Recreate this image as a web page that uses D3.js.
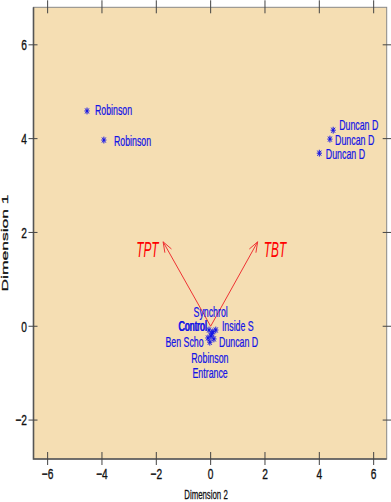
<!DOCTYPE html>
<html>
<head>
<meta charset="utf-8">
<script src="https://cdn.jsdelivr.net/npm/d3@7"></script>
<style>
  body { margin: 0; background: #fff; }
  text { font-family: "Liberation Sans", Arial, sans-serif; }
</style>
</head>
<body>
<svg class="biplot"></svg>
<script>
var width = 391,
    height = 502;

// axis ticks
var xTicks = [-6, -4, -2, 0, 2, 4, 6];
var yTicks = [-2, 0, 2, 4, 6];

// sites: star position (x, y) and where its label sits (lx, ly), in plot units
var siteNames = ["Robinson", "Robinson", "Duncan D", "Duncan D", "Duncan D",
                 "Synchrol", "Control", "Control", "Inside S", "Ben Scho", "Duncan D", "Robinson", "Entrance"];
var siteX  = [-4.55, -3.93, 4.51, 4.39, 4.00, -0.06, 0.08, 0.01, 0.19, -0.10, 0.12, -0.03, 0.04];
var siteY  = [4.59, 3.97, 4.18, 3.99, 3.69, -0.08, -0.12, -0.21, -0.08, -0.25, -0.27, -0.34, -0.16];
var labelX = [-4.26, -3.56, 4.73, 4.58, 4.24, 0.00, -0.67, -0.65, 1.00, -0.96, 1.03, -0.03, -0.02];
var labelY = [4.60, 3.94, 4.29, 3.97, 3.67, 0.31, 0.00, 0.01, 0.00, -0.33, -0.33, -0.68, -1.00];
var labelAnchor = ["start", "start", "start", "start", "start",
                   "middle", "middle", "middle", "middle", "middle", "middle", "middle", "middle"];

// environmental vectors
var vecNames = ["TPT", "TBT"];
var vecX = [-1.75, 1.73];
var vecY = [1.80, 1.80];
var vecLabelX = [-2.33, 2.37];
var vecLabelY = [1.65, 1.65];

var box = { left: 33.5, right: 386.7, top: 7.3, bottom: 459 };

var svg = d3.select(".biplot")
    .attr("width", width)
    .attr("height", height);

var x = d3.scaleLinear().domain([-6.52, 6.48]).range([box.left, box.right]);
var y = d3.scaleLinear().domain([-2.83, 6.8]).range([box.bottom, box.top]);

svg.append("rect")
    .attr("x", box.left).attr("y", box.top)
    .attr("width", box.right - box.left).attr("height", box.bottom - box.top)
    .attr("fill", "#F5DEB3")
    .attr("stroke", "#888")
    .attr("stroke-width", 1);

// darker left / bottom edge
svg.append("path")
    .attr("d", "M" + box.left + "," + box.top + "V" + box.bottom + "H" + box.right)
    .attr("fill", "none")
    .attr("stroke", "#555")
    .attr("stroke-width", 1.6);

// ticks cross the frame on all four sides
var tickCol = "#444";
xTicks.forEach(function(t) {
    svg.append("line").attr("x1", x(t)).attr("x2", x(t)).attr("y1", box.bottom - 7).attr("y2", box.bottom + 6)
        .attr("stroke", tickCol);
    svg.append("line").attr("x1", x(t)).attr("x2", x(t)).attr("y1", box.top - 7).attr("y2", box.top + 6)
        .attr("stroke", tickCol);
});
yTicks.forEach(function(t) {
    svg.append("line").attr("x1", box.left - 5).attr("x2", box.left + 4).attr("y1", y(t)).attr("y2", y(t))
        .attr("stroke", tickCol);
    svg.append("line").attr("x1", box.right - 4).attr("x2", box.right + 5).attr("y1", y(t)).attr("y2", y(t))
        .attr("stroke", tickCol);
});

function fmt(v) { return v < 0 ? "\u2212" + Math.abs(v) : String(v); }

function squeezed(sel, px, py, sx, sy) {
    return sel.attr("transform", "translate(" + px + "," + py + ") scale(" + sx + "," + (sy || 1) + ")");
}

xTicks.forEach(function(t) {
    squeezed(svg.append("text"), x(t), 474, 0.68)
        .attr("text-anchor", "middle").attr("dy", "0.35em")
        .style("font-size", "15px").attr("fill", "#111")
        .attr("stroke", "#111").attr("stroke-width", 0.35)
        .text(fmt(t));
});
yTicks.forEach(function(t) {
    squeezed(svg.append("text"), 27, y(t), 0.68)
        .attr("text-anchor", "end").attr("dy", "0.35em")
        .style("font-size", "15px").attr("fill", "#111")
        .attr("stroke", "#111").attr("stroke-width", 0.35)
        .text(fmt(t));
});

squeezed(svg.append("text"), 206, 494, 0.58)
    .attr("text-anchor", "middle").attr("dy", "0.35em")
    .style("font-size", "13.5px").attr("fill", "#111")
    .attr("stroke", "#111").attr("stroke-width", 0.3)
    .text("Dimension 2");

svg.append("text")
    .attr("transform", "translate(5,243) rotate(-90) scale(1.25,0.62)")
    .attr("text-anchor", "middle").attr("dy", "0.35em")
    .style("font-size", "14px").attr("fill", "#111")
    .attr("stroke", "#111").attr("stroke-width", 0.4)
    .text("Dimension 1");

// arrows
var red = "#ee3333";
vecNames.forEach(function(n, i) {
    var x0 = x(0), y0 = y(0), x1 = x(vecX[i]), y1 = y(vecY[i]);
    var a = Math.atan2(y1 - y0, x1 - x0), len = 11, spread = 0.35;
    svg.append("line").attr("x1", x0).attr("y1", y0).attr("x2", x1).attr("y2", y1)
        .attr("stroke", red).attr("stroke-width", 1);
    svg.append("path")
        .attr("d", "M" + (x1 - len * Math.cos(a - spread)) + "," + (y1 - len * Math.sin(a - spread)) +
                   "L" + x1 + "," + y1 +
                   "L" + (x1 - len * Math.cos(a + spread)) + "," + (y1 - len * Math.sin(a + spread)))
        .attr("fill", "none").attr("stroke", red).attr("stroke-width", 1);
    squeezed(svg.append("text"), x(vecLabelX[i]), y(vecLabelY[i]), 0.54)
        .attr("text-anchor", "middle").attr("dy", "0.35em")
        .style("font-size", "22px").style("font-style", "italic")
        .attr("fill", "#ff0000")
        .text(n);
});

// stars (pch 8)
var blue = "#1414e6";
var star = svg.append("g").attr("stroke", blue).attr("stroke-width", 1).attr("fill", "none");
siteNames.forEach(function(n, i) {
    var cx = x(siteX[i]), cy = y(siteY[i]), r = 2.6, ry = 3.4;
    star.append("path")
        .attr("d", "M" + (cx - r) + "," + cy + "H" + (cx + r) +
                   "M" + cx + "," + (cy - ry) + "V" + (cy + ry) +
                   "M" + (cx - r * 0.75) + "," + (cy - ry * 0.75) + "L" + (cx + r * 0.75) + "," + (cy + ry * 0.75) +
                   "M" + (cx - r * 0.75) + "," + (cy + ry * 0.75) + "L" + (cx + r * 0.75) + "," + (cy - ry * 0.75));
});

siteNames.forEach(function(n, i) {
    squeezed(svg.append("text"), x(labelX[i]), y(labelY[i]), 0.63)
        .attr("text-anchor", labelAnchor[i]).attr("dy", "0.35em")
        .style("font-size", "14px").attr("fill", blue)
        .attr("stroke", blue).attr("stroke-width", 0.25)
        .text(n);
});
</script>
</body>
</html>
